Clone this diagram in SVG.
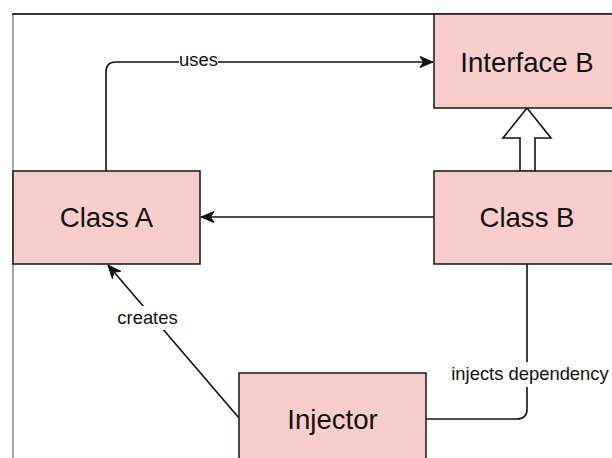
<svg xmlns="http://www.w3.org/2000/svg" width="612" height="458" viewBox="0 0 612 458">
  <style>
    .box { fill: #f8cecc; stroke: #222; stroke-width: 1.6; }
    .node-label { font-family: "Liberation Sans", Arial, sans-serif; font-size: 27.6px; fill: #111; text-anchor: middle; }
    .edge { fill: none; stroke: #111; stroke-width: 1.6; }
    .edge-label { font-family: "Liberation Sans", Arial, sans-serif; font-size: 18.4px; fill: #111; text-anchor: middle; }
    .label-bg { fill: #fff; }
  </style>
  <defs>
    <marker id="arrow" viewBox="-14 -6 15 12" refX="0" refY="0" markerUnits="userSpaceOnUse" markerWidth="15" markerHeight="12" orient="auto">
      <path d="M0,0 L-13,-5.5 L-9.5,0 L-13,5.5 Z" fill="#111" stroke="#111" stroke-width="1" stroke-linejoin="miter"/>
    </marker>
  </defs>

  <rect width="612" height="458" fill="#fff"/>

  <!-- page frame -->
  <g id="frame">
    <line x1="13" y1="14" x2="13" y2="458" stroke="#888" stroke-width="1.5"/>
    <line x1="12" y1="14" x2="612" y2="14" stroke="#333" stroke-width="2"/>
  </g>

  <!-- connectors -->
  <g id="connectors">
    <path class="edge" d="M106,171 V72 Q106,62 116,62 H433" marker-end="url(#arrow)"/>
    <path class="edge" d="M434,217 H201" marker-end="url(#arrow)"/>
    <path class="edge" d="M239,418 L108,265" marker-end="url(#arrow)"/>
    <path class="edge" d="M527,264 V409 Q527,419 517,419 H426"/>
    <!-- realization arrow, Class B to Interface B -->
    <path d="M520,171 V138 H503 L527,108 L551,138 H535 V171 Z" fill="#fff" stroke="#111" stroke-width="1.6" stroke-linejoin="miter"/>

    <rect class="label-bg" x="179" y="50" width="39" height="22"/>
    <text class="edge-label" x="198.5" y="66">uses</text>
    <rect class="label-bg" x="115" y="306" width="65" height="24"/>
    <text class="edge-label" x="147.5" y="324">creates</text>
    <rect class="label-bg" x="449" y="362" width="161" height="25"/>
    <text class="edge-label" x="530" y="380">injects dependency</text>
  </g>

  <g id="interface-b">
    <rect class="box" x="434" y="14" width="186" height="94"/>
    <text class="node-label" x="527" y="72">Interface B</text>
  </g>

  <g id="class-a">
    <rect class="box" x="13" y="171" width="187" height="93"/>
    <text class="node-label" x="106.5" y="227">Class A</text>
  </g>

  <g id="class-b">
    <rect class="box" x="434" y="171" width="186" height="93"/>
    <text class="node-label" x="527" y="227">Class B</text>
  </g>

  <g id="injector">
    <rect class="box" x="239" y="373" width="187" height="93"/>
    <text class="node-label" x="332.5" y="429">Injector</text>
  </g>
</svg>
